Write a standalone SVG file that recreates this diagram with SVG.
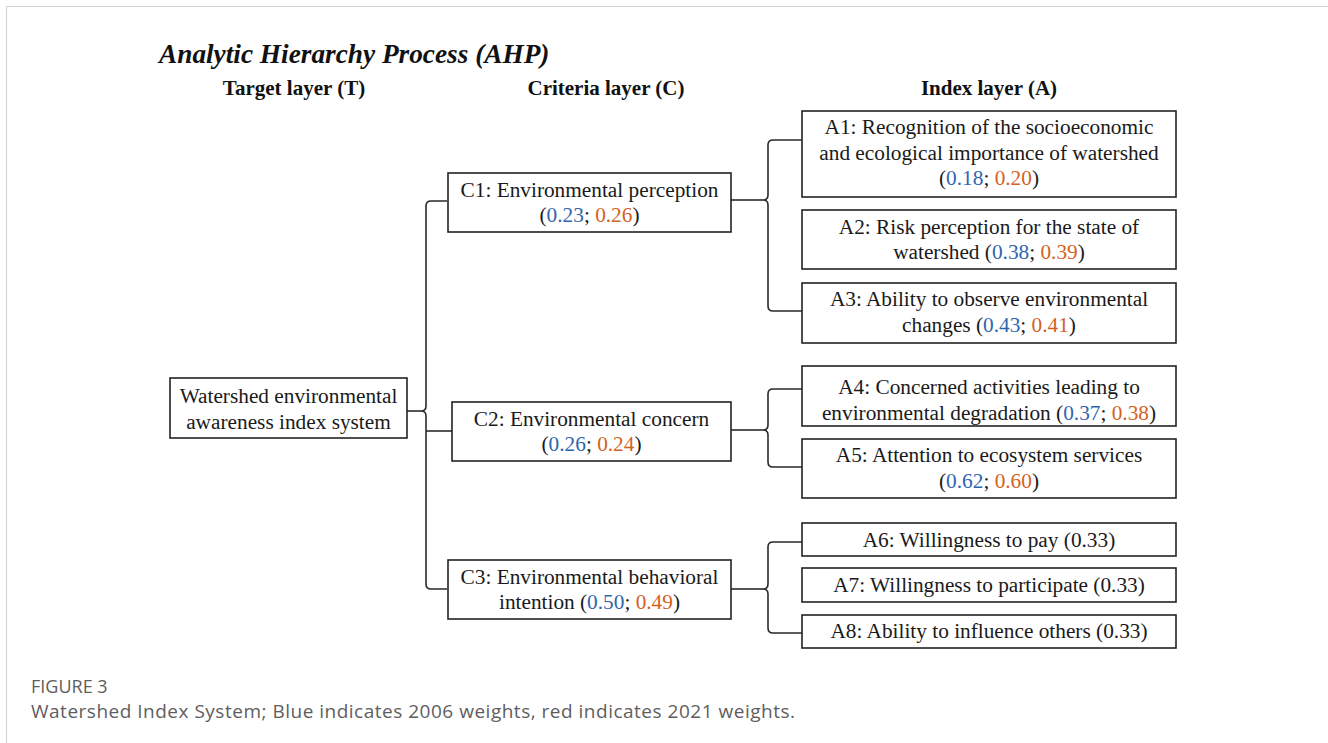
<svg xmlns="http://www.w3.org/2000/svg" width="1328" height="743" viewBox="0 0 1328 743">
<style>
.t{font-family:"Liberation Serif","Times New Roman",serif;font-size:21.3px;fill:#1a1a1a;text-anchor:middle}
.h{font-family:"Liberation Serif","Times New Roman",serif;font-size:21px;font-weight:bold;fill:#111;text-anchor:middle}
.box{fill:#fff;stroke:#222;stroke-width:1.6}
.con{fill:none;stroke:#2a2a2a;stroke-width:1.6}
.b{fill:#2f66ad}
.r{fill:#d4621f}
.cap{font-family:"Open Sans","Noto Sans",sans-serif;fill:#5e5e5e}
</style>
<rect width="1328" height="743" fill="#fff"/>
<path d="M6.5 743 V6.5 H1328" fill="none" stroke="#d4d4d4" stroke-width="1.2"/>
<text x="159" y="63" font-family="Liberation Serif, Times New Roman, serif" font-size="27.3" font-weight="bold" font-style="italic" fill="#111">Analytic Hierarchy Process (AHP)</text>
<text class="h" x="294" y="95">Target layer (T)</text>
<text class="h" x="606" y="95">Criteria layer (C)</text>
<text class="h" x="989" y="95">Index layer (A)</text>

<g id="connectors">
<path class="con" d="M447 201 H431 Q426 201 426 206 V406 Q426 411 421 411 Q426 411 426 416 V584 Q426 589 431 589 H447"/>
<path class="con" d="M407 411 H421"/>
<path class="con" d="M426 431 H452"/>
<path class="con" d="M802 140 H773 Q768 140 768 145 V195 Q768 200 763 200 Q768 200 768 205 V306 Q768 311 773 311 H802"/>
<path class="con" d="M731 200 H763"/>
<path class="con" d="M802 389 H773 Q768 389 768 394 V425 Q768 430 763 430 Q768 430 768 435 V462 Q768 467 773 467 H802"/>
<path class="con" d="M731 430 H763"/>
<path class="con" d="M802 542 H773 Q768 542 768 547 V584 Q768 589 763 589 Q768 589 768 594 V628 Q768 633 773 633 H802"/>
<path class="con" d="M731 589 H763"/>
</g>

<g id="T">
<rect class="box" x="170" y="378" width="237" height="60"/>
<text class="t" x="288.5" y="403">Watershed environmental</text>
<text class="t" x="288.5" y="429">awareness index system</text>
</g>

<g id="C1">
<rect class="box" x="448" y="173" width="283" height="59"/>
<text class="t" x="589.5" y="197">C1: Environmental perception</text>
<text class="t" x="589.5" y="222">(<tspan class="b">0.23</tspan>; <tspan class="r">0.26</tspan>)</text>
</g>
<g id="C2">
<rect class="box" x="452" y="402" width="279" height="59"/>
<text class="t" x="591.5" y="426">C2: Environmental concern</text>
<text class="t" x="591.5" y="451">(<tspan class="b">0.26</tspan>; <tspan class="r">0.24</tspan>)</text>
</g>
<g id="C3">
<rect class="box" x="448" y="560" width="283" height="59"/>
<text class="t" x="589.5" y="584">C3: Environmental behavioral</text>
<text class="t" x="589.5" y="609">intention (<tspan class="b">0.50</tspan>; <tspan class="r">0.49</tspan>)</text>
</g>

<g id="A1">
<rect class="box" x="802" y="111" width="374" height="86"/>
<text class="t" x="989" y="134">A1: Recognition of the socioeconomic</text>
<text class="t" x="989" y="160">and ecological importance of watershed</text>
<text class="t" x="989" y="185">(<tspan class="b">0.18</tspan>; <tspan class="r">0.20</tspan>)</text>
</g>
<g id="A2">
<rect class="box" x="802" y="210" width="374" height="59"/>
<text class="t" x="989" y="234">A2: Risk perception for the state of</text>
<text class="t" x="989" y="259">watershed (<tspan class="b">0.38</tspan>; <tspan class="r">0.39</tspan>)</text>
</g>
<g id="A3">
<rect class="box" x="802" y="283" width="374" height="60"/>
<text class="t" x="989" y="306">A3: Ability to observe environmental</text>
<text class="t" x="989" y="332">changes (<tspan class="b">0.43</tspan>; <tspan class="r">0.41</tspan>)</text>
</g>
<g id="A4">
<rect class="box" x="802" y="366" width="374" height="60"/>
<text class="t" x="989" y="394">A4: Concerned activities leading to</text>
<text class="t" x="989" y="420">environmental degradation (<tspan class="b">0.37</tspan>; <tspan class="r">0.38</tspan>)</text>
</g>
<g id="A5">
<rect class="box" x="802" y="439" width="374" height="59"/>
<text class="t" x="989" y="462">A5:  Attention to ecosystem services</text>
<text class="t" x="989" y="488">(<tspan class="b">0.62</tspan>; <tspan class="r">0.60</tspan>)</text>
</g>
<g id="A6">
<rect class="box" x="802" y="523" width="374" height="33"/>
<text class="t" x="989" y="547">A6: Willingness to pay (0.33)</text>
</g>
<g id="A7">
<rect class="box" x="802" y="568" width="374" height="34"/>
<text class="t" x="989" y="592">A7: Willingness to participate (0.33)</text>
</g>
<g id="A8">
<rect class="box" x="802" y="615" width="374" height="33"/>
<text class="t" x="989" y="638">A8: Ability to influence others (0.33)</text>
</g>

<text class="cap" x="31" y="693" font-size="18" fill="#555">FIGURE 3</text>
<text class="cap" x="31" y="718" font-size="19" textLength="764" lengthAdjust="spacing">Watershed Index System; Blue indicates 2006 weights, red indicates 2021 weights.</text>
</svg>
